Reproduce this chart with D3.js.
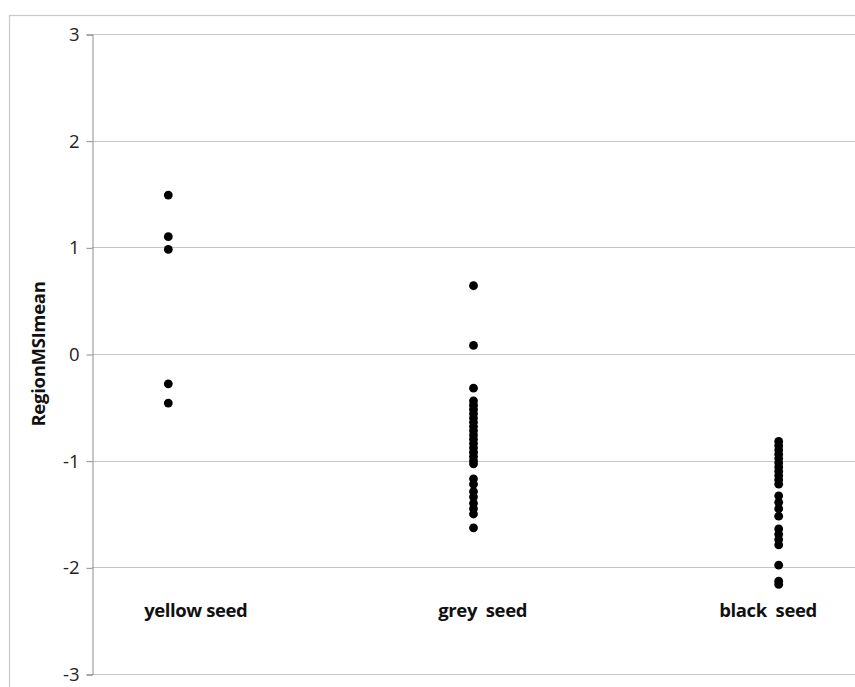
<!DOCTYPE html>
<html>
<head>
<meta charset="utf-8">
<script src="https://cdn.jsdelivr.net/npm/d3@7"></script>
<style>
  html, body { margin: 0; padding: 0; background: #fff; }
  svg { display: block; }
</style>
</head>
<body>
<svg id="chart" width="855" height="687"></svg>
<script>
// Seed-colour groups and their RegionMSImean values
const categories = ["yellow seed", "grey  seed", "black  seed"];
const yellowValues = [1.49, 1.10, 0.98, -0.28, -0.46];
const greyValues = [0.64, 0.08, -0.32, -0.44, -0.48, -0.52, -0.56, -0.60, -0.64, -0.68,
  -0.72, -0.76, -0.80, -0.84, -0.88, -0.92, -0.96, -1.00, -1.03,
  -1.17, -1.22, -1.29, -1.34, -1.40, -1.45, -1.50, -1.63];
const blackValues = [-0.82, -0.86, -0.90, -0.94, -0.98, -1.02, -1.06, -1.10, -1.14, -1.18,
  -1.22, -1.33, -1.39, -1.45, -1.52, -1.64, -1.69, -1.74, -1.79, -1.98, -2.13, -2.16];
const seriesValues = [yellowValues, greyValues, blackValues];
const yTicks = [-3, -2, -1, 0, 1, 2, 3];
const yTickLabels = ["-3", "-2", "-1", "0", "1", "2", "3"];
const yLabel = "RegionMSImean";

const svg = d3.select("#chart");
const plot = { left: 92, top: 34, right: 855, bottom: 674 };
const font = "'Open Sans', 'Liberation Sans', sans-serif";

const x = d3.scaleLinear().domain([0.75, 3.25]).range([plot.left, plot.right]);
const y = d3.scaleLinear().domain([-3, 3]).range([plot.bottom, plot.top]);

// outer chart frame
svg.append("rect")
  .attr("x", 9.5).attr("y", 15.5)
  .attr("width", 900).attr("height", 700)
  .attr("fill", "none").attr("stroke", "#c8c8c8").attr("stroke-width", 1.2);

// horizontal gridlines
svg.append("g")
  .selectAll("line")
  .data(yTicks)
  .join("line")
  .attr("x1", plot.left).attr("x2", plot.right)
  .attr("y1", d => Math.round(y(d)) + 0.5).attr("y2", d => Math.round(y(d)) + 0.5)
  .attr("stroke", "#c4c4c4").attr("stroke-width", 1);

// y axis
const yAxis = d3.axisLeft(y)
  .tickValues(yTicks)
  .tickSize(6).tickPadding(7)
  .tickFormat((d, i) => yTickLabels[i]);
const gy = svg.append("g")
  .attr("transform", `translate(${plot.left + 0.5},0.5)`)
  .call(yAxis);
gy.select(".domain").attr("stroke", "#8c8c8c");
gy.selectAll(".tick line").attr("stroke", "#8c8c8c");
gy.selectAll(".tick text")
  .attr("font-family", font)
  .attr("font-size", 18.5).attr("fill", "#222");

// axis title
svg.append("text")
  .attr("transform", `translate(40,${y(0)}) rotate(-90)`)
  .attr("text-anchor", "middle")
  .attr("dominant-baseline", "middle")
  .attr("font-family", font)
  .attr("font-weight", "bold").attr("font-size", 18.5)
  .attr("letter-spacing", -0.3)
  .attr("fill", "#111")
  .text(yLabel);

// points
const points = seriesValues.flatMap((vals, i) => vals.map(v => ({ cat: i + 1, v })));
svg.append("g")
  .selectAll("circle")
  .data(points)
  .join("circle")
  .attr("cx", d => x(d.cat))
  .attr("cy", d => y(d.v))
  .attr("r", 4.4)
  .attr("fill", "#000");

// category labels
const labelOffsets = [0.09, 0.03, -0.035];
svg.append("g")
  .selectAll("text")
  .data(categories)
  .join("text")
  .attr("x", (d, i) => x(i + 1 + labelOffsets[i]))
  .attr("y", y(-2.42))
  .attr("text-anchor", "middle")
  .attr("dominant-baseline", "middle")
  .attr("font-family", font)
  .attr("font-weight", "bold").attr("font-size", 18.5)
  .attr("letter-spacing", -0.4)
  .attr("fill", "#111")
  .style("white-space", "pre")
  .text(d => d);
</script>
</body>
</html>
